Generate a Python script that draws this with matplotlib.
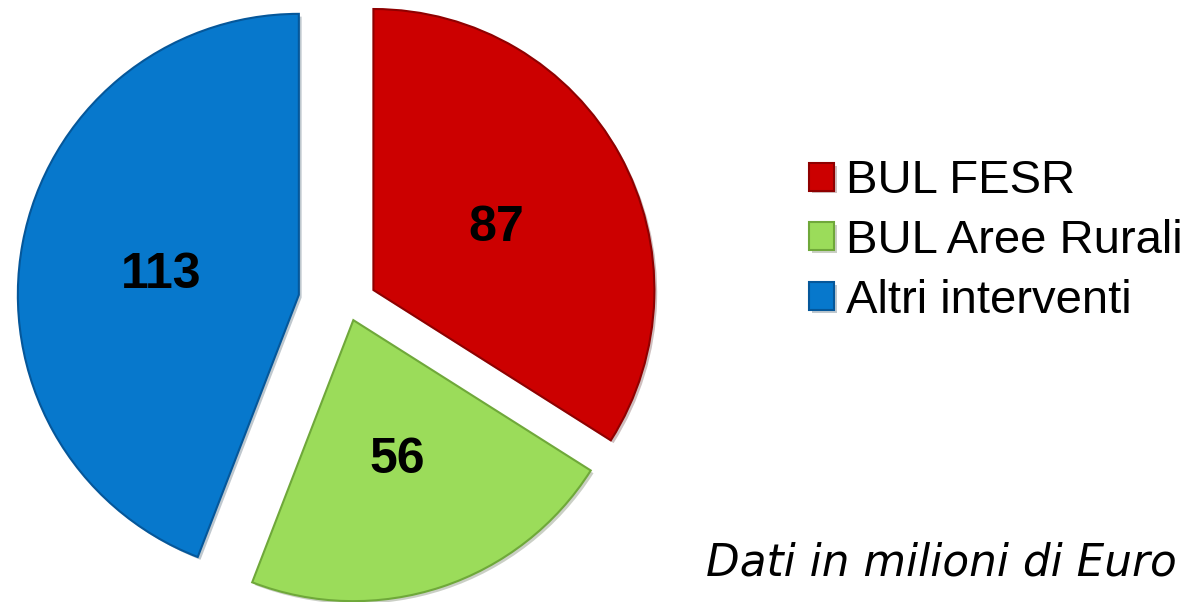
import numpy as np
import matplotlib

matplotlib.use('Agg')

import matplotlib.pyplot as plt
import matplotlib.patheffects as pe

# data (milioni di Euro)
labels = ['BUL FESR', 'BUL Aree Rurali', 'Altri interventi']
values = [87, 56, 113]
colors = ['#cc0000', '#9bdc5a', '#0778cc']
edges = ['#8f0000', '#6fa83a', '#05579a']

W, H = 1195, 602
fig = plt.figure(figsize=(W / 100, H / 100), dpi=100)
ax = fig.add_axes([0, 0, 1, 1])

total = float(sum(values))

# explode is in data units (pixels here)
wedges, texts, autotexts = ax.pie(
    values, colors=colors, startangle=90, counterclock=False,
    radius=281, center=(348, H - 304), frame=True,
    explode=[29, 17, 50],
    autopct=lambda p: '%d' % round(p * total / 100.0), pctdistance=0.5,
    wedgeprops=dict(linewidth=1.5))

for w, ec in zip(wedges, edges):
    w.set_edgecolor(ec)
    # soft shadow, like the bevelled slices of the original
    w.set_path_effects([pe.SimplePatchShadow(offset=(2, -2), alpha=0.25), pe.Normal()])

for t in autotexts:
    t.set_fontsize(36)
    t.set_fontweight('bold')
    t.set_fontfamily('Liberation Sans')
    t.set_color('black')
    x, y = t.get_position()
    t.set_position((x, y - 6))

ax.set_xlim(0, W)
ax.set_ylim(0, H)
ax.set_aspect('equal')
ax.axis('off')

leg = ax.legend(wedges, labels, loc='center left', bbox_to_anchor=(809, H - 241),
                bbox_transform=ax.transData, frameon=False,
                prop={'family': 'Liberation Sans', 'size': 34},
                handlelength=0.53, handleheight=0.53, handletextpad=0.26,
                labelspacing=0.33, borderpad=0, borderaxespad=0)

ax.text(1177, H - 575, 'Dati in milioni di Euro', ha='right', va='baseline',
        fontsize=31.5, style='italic', family='DejaVu Sans')

plt.savefig('out.png', dpi=100)
